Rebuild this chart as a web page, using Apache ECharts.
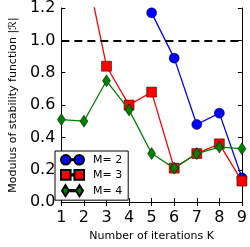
<!DOCTYPE html>
<html><head><meta charset="utf-8">
<script src="https://cdn.jsdelivr.net/npm/echarts@6/dist/echarts.min.js"></script>
<style>html,body{margin:0;padding:0;background:#fff}#c{width:250px;height:247px}</style>
</head><body><div id="c"></div>
<script>
const iterations = [1, 2, 3, 4, 5, 6, 7, 8, 9];
const seriesNames = ['M= 2', 'M= 3', 'M= 4'];
const m2 = [null, null, null, null, 1.17, 0.89, 0.48, 0.55, 0.15];
const m3 = [2.0, 1.51, 0.84, 0.60, 0.68, 0.21, 0.30, 0.36, 0.13];
const m4 = [0.51, 0.50, 0.75, 0.57, 0.30, 0.21, 0.30, 0.34, 0.33];
const yTicks = [0.0, 0.2, 0.4, 0.6, 0.8, 1.0, 1.2];
const refLevel = 1.0;

const F = 'DejaVu Sans';
const pairs = arr => iterations.map((k, i) => [k, arr[i]]);
const iconCircle = 'path://M0,5a5,5 0 1,0 10,0a5,5 0 1,0 -10,0ZM10,4.4L14,4.4L14,5.6L10,5.6ZM14,5a5,5 0 1,0 10,0a5,5 0 1,0 -10,0Z';
const iconSquare = 'path://M0,0L10,0L10,10L0,10ZM10,4.4L14,4.4L14,5.6L10,5.6ZM14,0L24,0L24,10L14,10Z';
const iconDiamond = 'path://M5,-0.5L8.5,5L5,10.5L1.5,5ZM8.5,4.4L15.5,4.4L15.5,5.6L8.5,5.6ZM19,-0.5L22.5,5L19,10.5L15.5,5Z';
const colors = ['#0000ff', '#ff0000', '#008000'];
const symbols = ['circle', 'rect', 'diamond'];
const sizes = [[10, 10], [10, 10], [8, 12]];
const icons = [iconCircle, iconSquare, iconDiamond];
const dataSets = [m2, m3, m4];

const chart = echarts.init(document.getElementById('c'), null, {renderer: 'canvas'});
const series = dataSets.map((d, i) => ({
  name: seriesNames[i], type: 'line', data: pairs(d), clip: true,
  symbol: symbols[i], symbolSize: sizes[i], showSymbol: true,
  lineStyle: {color: colors[i], width: 1.3},
  itemStyle: {color: colors[i], borderColor: '#000', borderWidth: 0.5},
  connectNulls: false, animation: false, z: 3 + i
}));
series[0].markLine = {
  silent: true, symbol: ['none', 'none'], label: {show: false},
  lineStyle: {color: '#000', type: [8, 5], width: 1.8},
  data: [{yAxis: refLevel}], animation: false
};
const axisCommon = {
  axisLine: {show: true, lineStyle: {color: '#000', width: 1}},
  axisTick: {show: true, inside: true, length: 4, lineStyle: {color: '#000'}},
  splitLine: {show: false}
};
chart.setOption({
  animation: false,
  grid: {left: 51, right: 5, top: 8, bottom: 39, containLabel: false},
  legend: {
    orient: 'vertical', left: 55, top: 151,
    backgroundColor: '#fff', borderColor: '#000', borderWidth: 1,
    padding: [3, 6, 3, 5], itemGap: 3.5, itemWidth: 23, itemHeight: 11,
    textStyle: {fontFamily: F, fontSize: 11, color: '#000', padding: [0, 0, 0, 4]},
    data: seriesNames.map((n, i) => ({name: n, icon: icons[i]}))
  },
  xAxis: [
    Object.assign({type: 'value', min: 1, max: 9, interval: 1, position: 'bottom',
      name: 'Number of iterations K', nameLocation: 'middle', nameGap: 27,
      nameTextStyle: {fontFamily: F, fontSize: 11, color: '#000'},
      axisLabel: {fontFamily: F, fontSize: 16, color: '#000', margin: 8}}, axisCommon),
    Object.assign({type: 'value', min: 1, max: 9, interval: 1, position: 'top',
      axisLabel: {show: false}}, axisCommon)
  ],
  yAxis: [
    Object.assign({type: 'value', min: yTicks[0], max: yTicks[yTicks.length - 1], interval: 0.2,
      name: 'Modulus of stability function |\u211B|', nameLocation: 'middle', nameGap: 36,
      nameTextStyle: {fontFamily: F, fontSize: 11, color: '#000'},
      axisLabel: {fontFamily: F, fontSize: 16, color: '#000', margin: 6,
        formatter: v => v.toFixed(1)}}, axisCommon),
    Object.assign({type: 'value', min: yTicks[0], max: yTicks[yTicks.length - 1], interval: 0.2,
      position: 'right', axisLabel: {show: false}}, axisCommon)
  ],
  series: series
});
</script></body></html>
